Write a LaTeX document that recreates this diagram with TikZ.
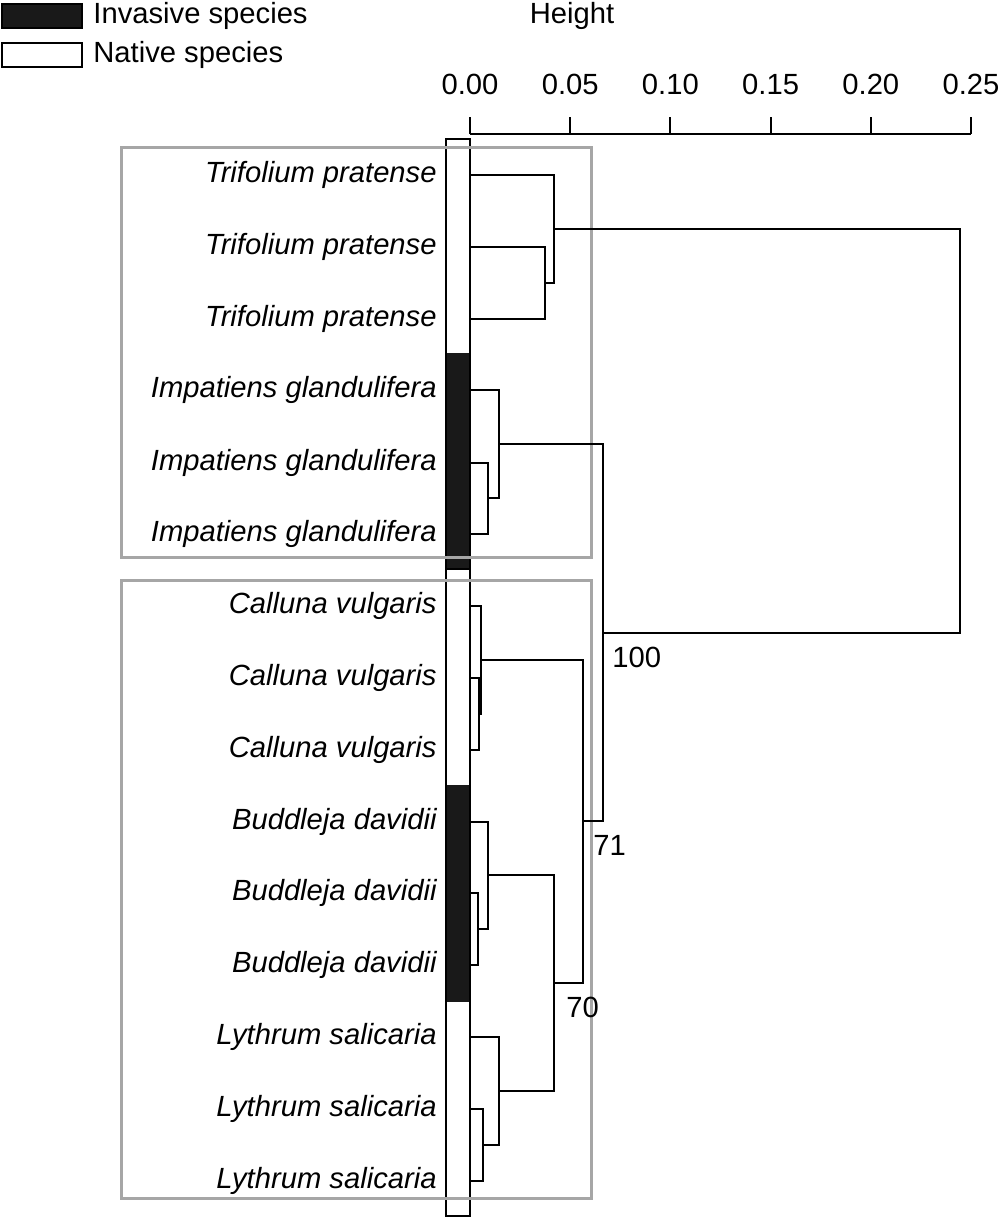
\documentclass[tikz,border=0pt]{standalone}
\usepackage{fontspec}
\setmainfont{Liberation Sans}
\usetikzlibrary{positioning}

\tikzset{
  leaf/.style={anchor=east, inner sep=0pt, font=\fontsize{14.6}{17}\selectfont\itshape},
  boot/.style={anchor=west, inner sep=0pt},
  branch/.style={line width=1pt},
  groupbox/.style={draw=black!35, line width=1.5pt},
  key/.style={draw, line width=1pt, minimum width=40pt, minimum height=12pt, anchor=north west, inner sep=0pt},
}

\begin{document}
\begin{tikzpicture}[x=0.5pt,y=-0.5pt, font=\fontsize{14.6}{17}\selectfont, node distance=5pt]
   \useasboundingbox (0,0) rectangle (999,1218);
   % legend
   \node[key, fill=black!90] (inv) at (1,3) {};
   \node[key, fill=white] (nat) at (1,42) {};
   \node[inner sep=0pt, right=of inv] {Invasive species};
   \node[inner sep=0pt, right=of nat] {Native species};
   % axis
   \node (height) at (572,16) {Height};
   \coordinate (a0) at (470,134);
   \coordinate (a5) at (971,134);
   \draw[branch] (a0) -- (a5);
   \foreach \i/\t in {0/0.00,1/0.05,2/0.10,3/0.15,4/0.20,5/0.25} {
      \coordinate (tk\i) at ({470+100.2*\i},134);
      \draw[branch] (tk\i) -- ++(0,-17);
      \node (tl\i) at ({470+100.2*\i},84) {\t};
   }
   % status bar
   \fill[black!90] (446,353) rectangle (470,569);
   \fill[black!90] (446,785) rectangle (470,1002);
   \draw[line width=1.2pt] (446,139) rectangle (470,1216);
   \draw[line width=0.8pt] (446,569) -- (470,569);
   % groups
   \draw[groupbox] (121,148) rectangle (591,557);
   \draw[groupbox] (121,580) rectangle (591,1198);
   % species
   \node[leaf] (s1) at (437,175) {Trifolium pratense};
   \node[leaf] (s2) at (437,247) {Trifolium pratense};
   \node[leaf] (s3) at (437,319) {Trifolium pratense};
   \node[leaf] (s4) at (437,390) {Impatiens glandulifera};
   \node[leaf] (s5) at (437,463) {Impatiens glandulifera};
   \node[leaf] (s6) at (437,534) {Impatiens glandulifera};
   \node[leaf] (s7) at (437,606) {Calluna vulgaris};
   \node[leaf] (s8) at (437,678) {Calluna vulgaris};
   \node[leaf] (s9) at (437,750) {Calluna vulgaris};
   \node[leaf] (s10) at (437,822) {Buddleja davidii};
   \node[leaf] (s11) at (437,893) {Buddleja davidii};
   \node[leaf] (s12) at (437,965) {Buddleja davidii};
   \node[leaf] (s13) at (437,1037) {Lythrum salicaria};
   \node[leaf] (s14) at (437,1109) {Lythrum salicaria};
   \node[leaf] (s15) at (437,1181) {Lythrum salicaria};
   % leaf tips
   \coordinate (l1) at (470,175);
   \coordinate (l2) at (470,247);
   \coordinate (l3) at (470,319);
   \coordinate (l4) at (470,390);
   \coordinate (l5) at (470,463);
   \coordinate (l6) at (470,534);
   \coordinate (l7) at (470,606);
   \coordinate (l8) at (470,678);
   \coordinate (l9) at (470,750);
   \coordinate (l10) at (470,822);
   \coordinate (l11) at (470,893);
   \coordinate (l12) at (470,965);
   \coordinate (l13) at (470,1037);
   \coordinate (l14) at (470,1109);
   \coordinate (l15) at (470,1181);
   % merges
   \coordinate (m23) at (545,283);
   \coordinate (m123) at (554,229);
   \coordinate (m56) at (488,498);
   \coordinate (m456) at (499,444);
   \coordinate (m89) at (479,714);
   \coordinate (m789) at (481,660);
   \coordinate (m1112) at (478,929);
   \coordinate (m1012) at (488,875);
   \coordinate (m1415) at (483,1145);
   \coordinate (m1315) at (499,1091);
   \coordinate (mBL) at (554,983);
   \coordinate (mCBL) at (583,821);
   \coordinate (mICBL) at (603,633);
   \coordinate (root) at (960,431);
   \draw[branch] (l2) -| (m23) |- (l3);
   \draw[branch] (l1) -| (m123) |- (m23);
   \draw[branch] (l5) -| (m56) |- (l6);
   \draw[branch] (l4) -| (m456) |- (m56);
   \draw[branch] (l8) -| (m89) |- (l9);
   \draw[branch] (l7) -| (m789) |- (m89);
   \draw[branch] (l11) -| (m1112) |- (l12);
   \draw[branch] (l10) -| (m1012) |- (m1112);
   \draw[branch] (l14) -| (m1415) |- (l15);
   \draw[branch] (l13) -| (m1315) |- (m1415);
   \draw[branch] (m1012) -| (mBL) |- (m1315);
   \draw[branch] (m789) -| (mCBL) |- (mBL);
   \draw[branch] (m456) -| (mICBL) |- (mCBL);
   \draw[branch] (m123) -| (root) |- (mICBL);
   % bootstrap values
   \node[boot] (b100) at (612,657) {100};
   \node[boot] (b71) at (593,845) {71};
   \node[boot] (b70) at (566,1007) {70};
\end{tikzpicture}
\end{document}
